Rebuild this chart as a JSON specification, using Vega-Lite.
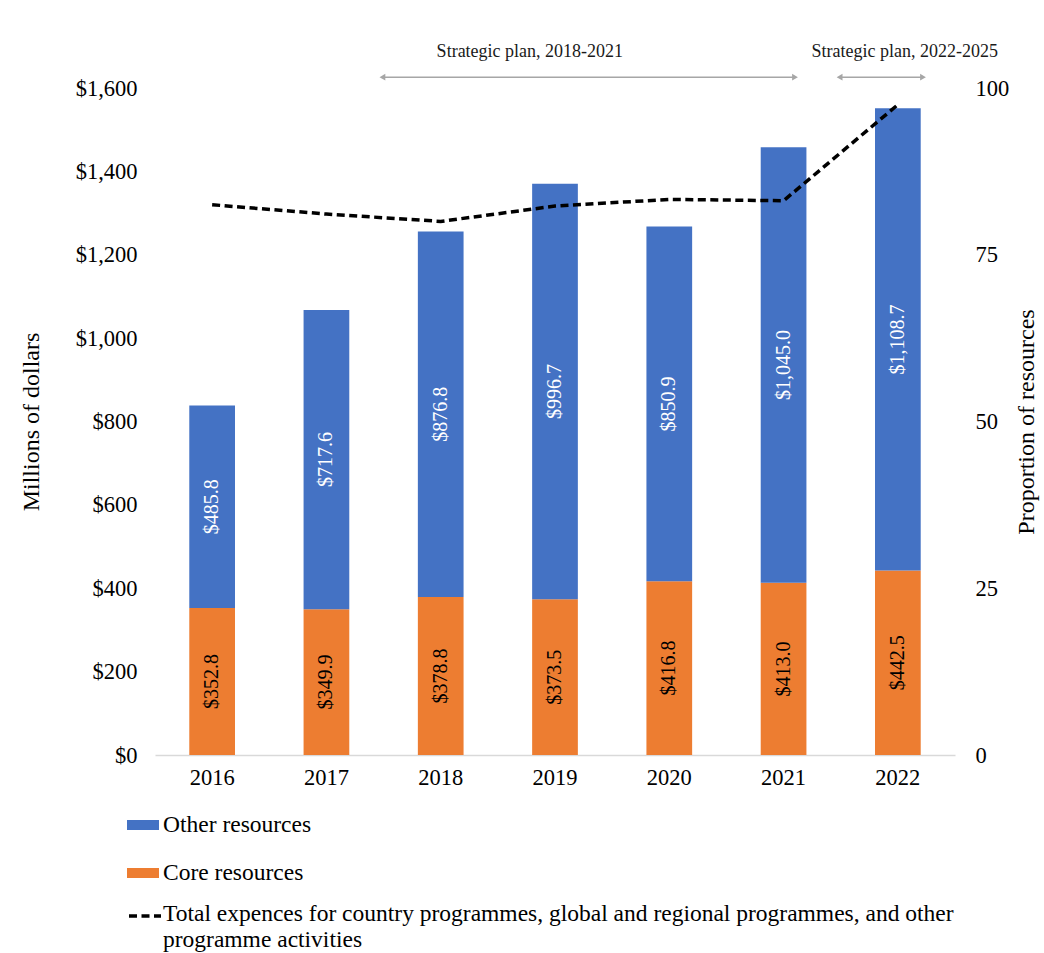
{
  "$schema": "https://vega.github.io/schema/vega-lite/v6.json",
  "width": 800,
  "height": 667,
  "autosize": {"type": "none"},
  "padding": {"left": 155, "top": 88, "right": 89, "bottom": 198},
  "background": "white",
  "config": {
    "font": "Liberation Serif",
    "view": {"stroke": null},
    "style": {"guide-label": {"lineHeight": 26}},
    "axis": {
      "labelFont": "Liberation Serif",
      "labelFontSize": 22.5,
      "labelColor": "black",
      "titleFont": "Liberation Serif",
      "titleFontSize": 24,
      "titleFontWeight": "normal",
      "titleColor": "black",
      "grid": false,
      "ticks": false
    },
    "legend": {
      "labelFont": "Liberation Serif",
      "labelFontSize": 23.5,
      "labelColor": "black",
      "labelLimit": 1000,
      "padding": 0
    }
  },
  "datasets": {
    "bars": [
      {"year": "2016", "type": "Core resources", "value": 352.8},
      {"year": "2016", "type": "Other resources", "value": 485.8},
      {"year": "2017", "type": "Core resources", "value": 349.9},
      {"year": "2017", "type": "Other resources", "value": 717.6},
      {"year": "2018", "type": "Core resources", "value": 378.8},
      {"year": "2018", "type": "Other resources", "value": 876.8},
      {"year": "2019", "type": "Core resources", "value": 373.5},
      {"year": "2019", "type": "Other resources", "value": 996.7},
      {"year": "2020", "type": "Core resources", "value": 416.8},
      {"year": "2020", "type": "Other resources", "value": 850.9},
      {"year": "2021", "type": "Core resources", "value": 413.0},
      {"year": "2021", "type": "Other resources", "value": 1045.0},
      {"year": "2022", "type": "Core resources", "value": 442.5},
      {"year": "2022", "type": "Other resources", "value": 1108.7}
    ],
    "line": [
      {"year": "2016", "series": "Total expences", "pct": 82.5},
      {"year": "2017", "series": "Total expences", "pct": 81.1},
      {"year": "2018", "series": "Total expences", "pct": 80.0},
      {"year": "2019", "series": "Total expences", "pct": 82.3},
      {"year": "2020", "series": "Total expences", "pct": 83.3},
      {"year": "2021", "series": "Total expences", "pct": 83.1},
      {"year": "2022", "series": "Total expences", "pct": 97.5}
    ],
    "plans": [
      {"label": "Strategic plan, 2018-2021", "start": 2017.49, "end": 2021.1, "labelAt": 2018.78},
      {"label": "Strategic plan, 2022-2025", "start": 2021.49, "end": 2022.22, "labelAt": 2022.06}
    ]
  },
  "layer": [
    {
      "data": {"name": "bars"},
      "encoding": {
        "x": {
          "field": "year",
          "type": "ordinal",
          "scale": {"paddingInner": 0.6, "paddingOuter": 0.3},
          "axis": {"title": null, "labelAngle": 0, "labelPadding": 11, "domain": true, "domainColor": "#d9d9d9", "domainWidth": 1.5}
        },
        "y": {
          "field": "value",
          "type": "quantitative",
          "stack": "zero",
          "scale": {"domain": [0, 1600], "nice": false},
          "axis": {"title": "Millions of dollars", "values": [0, 200, 400, 600, 800, 1000, 1200, 1400, 1600], "format": "$,.0f", "domain": false, "labelPadding": 18, "titlePadding": 32}
        },
        "order": {"field": "type", "sort": "ascending"}
      },
      "layer": [
        {
          "mark": {"type": "bar"},
          "encoding": {
            "color": {
              "field": "type",
              "type": "nominal",
              "scale": {"domain": ["Other resources", "Core resources"], "range": ["#4472C4", "#ED7D31"]},
              "legend": {
                "orient": "none",
                "legendX": -28,
                "legendY": 721,
                "direction": "vertical",
                "title": null,
                "symbolType": "M-1,-0.3125H1V0.3125H-1Z",
                "symbolSize": 1024,
                "symbolStrokeWidth": 0,
                "rowPadding": 20,
                "labelOffset": 4
              }
            }
          }
        },
        {
          "mark": {"type": "text", "angle": 270, "font": "Liberation Serif", "fontSize": 20, "baseline": "middle", "align": "center"},
          "encoding": {
            "y": {"field": "value", "type": "quantitative", "stack": "zero", "bandPosition": 0.5},
            "text": {"field": "value", "type": "quantitative", "format": "$,.1f"},
            "color": {"condition": {"test": "datum.type == 'Other resources'", "value": "white"}, "value": "black"}
          }
        }
      ]
    },
    {
      "data": {"name": "line"},
      "mark": {"type": "line", "color": "black", "strokeWidth": 3.5, "strokeCap": "butt"},
      "encoding": {
        "x": {"field": "year", "type": "ordinal", "scale": {"type": "point", "padding": 0.5}, "axis": null},
        "y": {
          "field": "pct",
          "type": "quantitative",
          "scale": {"domain": [0, 100], "nice": false},
          "axis": {"orient": "right", "title": "Proportion of resources", "values": [0, 25, 50, 75, 100], "domain": false, "labelPadding": 20, "titleAngle": 270, "titleBaseline": "top", "titlePadding": 6}
        },
        "strokeDash": {
          "field": "series",
          "type": "nominal",
          "scale": {"range": [[8, 4.5]]},
          "legend": {
            "orient": "none",
            "legendX": -28,
            "legendY": 808,
            "title": null,
            "symbolType": "M-1,0.125H1",
            "symbolSize": 1024,
            "symbolStrokeWidth": 3.5,
            "symbolStrokeColor": "black",
            "symbolFillColor": "transparent",
            "symbolDash": [8, 4.5],
            "labelOffset": 0,
            "labelExpr": "['Total expences for country programmes, global and regional programmes, and other', 'programme activities']"
          }
        }
      }
    },
    {
      "data": {"name": "plans"},
      "encoding": {
        "y": {"datum": 1626, "type": "quantitative", "scale": {"domain": [0, 1600], "nice": false}, "axis": null}
      },
      "layer": [
        {
          "mark": {"type": "rule", "color": "#a6a6a6", "strokeWidth": 1.5},
          "encoding": {
            "x": {"field": "start", "type": "quantitative", "scale": {"domain": [2015.5, 2022.5], "nice": false, "zero": false}, "axis": null},
            "x2": {"field": "end"}
          }
        },
        {
          "mark": {"type": "point", "shape": "triangle-left", "filled": true, "color": "#a6a6a6", "size": 45, "opacity": 1},
          "encoding": {"x": {"field": "start", "type": "quantitative"}}
        },
        {
          "mark": {"type": "point", "shape": "triangle-right", "filled": true, "color": "#a6a6a6", "size": 45, "opacity": 1},
          "encoding": {"x": {"field": "end", "type": "quantitative"}}
        },
        {
          "mark": {"type": "text", "font": "Liberation Serif", "fontSize": 18, "color": "#1a1a1a", "baseline": "middle"},
          "encoding": {
            "x": {"field": "labelAt", "type": "quantitative"},
            "y": {"datum": 1686, "type": "quantitative"},
            "text": {"field": "label"}
          }
        }
      ]
    }
  ],
  "resolve": {"scale": {"x": "independent", "y": "independent", "color": "independent"}}
}
